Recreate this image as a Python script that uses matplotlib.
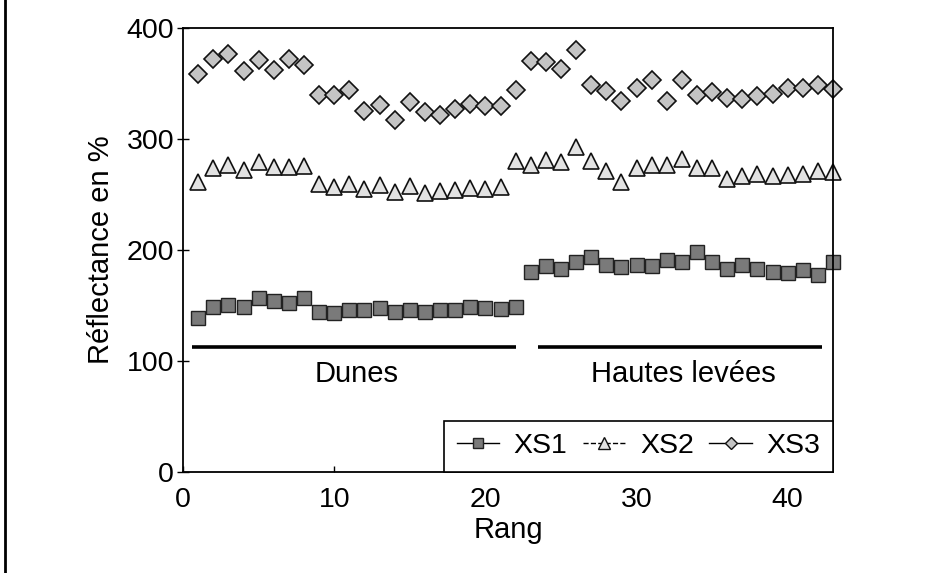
import matplotlib.pyplot as plt
from matplotlib.lines import Line2D
import numpy as np

# rangs 1..43 : Dunes (1-22) puis Hautes levées (23-43)
rang = np.arange(1, 44)

xs1 = [139, 149, 151, 149, 157, 154, 152, 157, 144, 143, 146, 146.5, 148, 144, 146, 144, 146, 146, 149, 148, 147, 149,
       180, 186, 183, 189, 194, 187, 185, 187, 186, 191, 189, 198, 189, 183, 187, 183, 180, 179, 182, 178, 189]
xs2 = [261, 274, 277, 272, 279, 275, 275, 276, 260, 257, 260, 255, 259, 252, 258, 251, 253, 254, 256, 255, 257, 280,
       277, 281, 279, 293, 280, 271, 261, 274, 277, 277, 282, 274, 274, 264, 267, 269, 267, 268, 269, 271, 270]
xs3 = [359, 372, 377, 361, 371, 362, 372, 367, 340, 340, 344, 325, 331, 317, 333, 324, 322, 327, 332, 330, 330, 344,
       370, 369, 363, 380, 349, 343, 334, 346, 353, 334, 353, 340, 342, 337, 336, 339, 341, 346, 346, 349, 345]

groupes = ['Dunes', 'Hautes levées']
groupes_debut = [0.6, 23.45]
groupes_fin = [22.0, 42.3]

plt.rcParams['font.family'] = ['Liberation Sans', 'DejaVu Sans']
plt.rcParams['font.size'] = 20

fig = plt.figure(figsize=(9.25, 5.73), dpi=100)
ax = fig.add_axes([0.198, 0.176, 0.7025, 0.775])

ax.plot(rang, xs1, linestyle='none', marker='s', markersize=10, markerfacecolor='#7a7a7a',
        markeredgecolor='#222222', markeredgewidth=1.0, clip_on=False)
ax.plot(rang, xs2, linestyle='none', marker='^', markersize=11, markerfacecolor='#e2e2e2',
        markeredgecolor='#111111', markeredgewidth=1.2, clip_on=False)
ax.plot(rang, xs3, linestyle='none', marker='D', markersize=9.5, markerfacecolor='#c4c4c4',
        markeredgecolor='#111111', markeredgewidth=1.2, clip_on=False)

for nom, a, b in zip(groupes, groupes_debut, groupes_fin):
    ax.hlines(112.9, a, b, color='black', linewidth=2.6)
    ax.text((a + b) / 2 + 0.2, 88, nom, ha='center', va='center', fontsize=21)

ax.set_xlim(0, 43)
ax.set_ylim(0, 400)
ax.set_xticks([0, 10, 20, 30, 40])
ax.set_yticks([0, 100, 200, 300, 400])
ax.tick_params(axis='y', direction='inout', length=9, width=1, pad=2, labelsize=20.5)
ax.tick_params(axis='x', direction='in', length=4, width=1, pad=11, labelsize=20.5)
for s in ax.spines.values():
    s.set_linewidth(1.3)

ax.set_xlabel('Rang', fontsize=21, labelpad=2)
ax.set_ylabel('Réflectance en %', fontsize=21, labelpad=8)

handles = [
    Line2D([], [], color='black', linestyle='-', linewidth=1, marker='s', markersize=7,
           markerfacecolor='#7a7a7a', markeredgecolor='#222222'),
    Line2D([], [], color='black', linestyle='--', linewidth=1, marker='^', markersize=8,
           markerfacecolor='#e2e2e2', markeredgecolor='#111111'),
    Line2D([], [], color='black', linestyle='-', linewidth=1, marker='D', markersize=6.5,
           markerfacecolor='#c4c4c4', markeredgecolor='#111111'),
]
leg = ax.legend(handles, ['XS1', 'XS2', 'XS3'], loc='lower right', ncol=3, fontsize=20.5,
                frameon=True, fancybox=False, framealpha=1, edgecolor='black',
                borderaxespad=0, handlelength=1.5, handletextpad=0.5, columnspacing=0.55,
                borderpad=0.45)
leg.get_frame().set_linewidth(1.2)

# bord de page scanné à gauche
fig.add_artist(Line2D([0.005, 0.005], [0, 1], transform=fig.transFigure, color='black', linewidth=2))

fig.savefig('out.png', dpi=100)
